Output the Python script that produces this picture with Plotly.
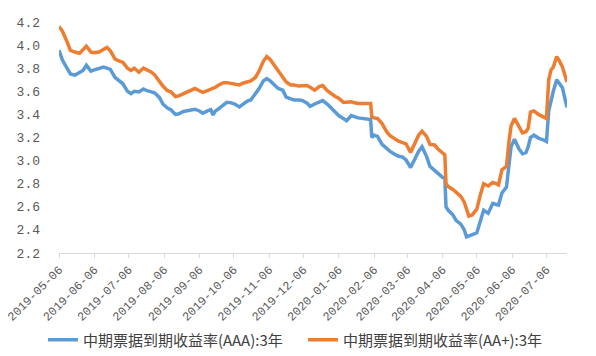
import plotly.graph_objects as go
from datetime import date, timedelta

start = date(2019, 5, 6)
day_offsets = [0, 3, 7, 10, 14, 18, 21, 24, 28, 31, 35, 39, 42, 45, 49, 52, 56, 60, 63, 66,
               70, 74, 77, 81, 84, 88, 91, 95, 98, 102, 105, 109, 112, 116, 119, 123, 126, 130,
               133, 135, 137, 140, 144, 147, 151, 154, 158, 161, 165, 168, 172, 175, 179, 182,
               185, 189, 192, 196, 199, 203, 206, 210, 213, 217, 220, 224, 228, 231, 235, 238,
               242, 245, 249, 252, 256, 259, 262, 273, 274, 276, 279, 283, 287, 290, 294, 297,
               301, 304, 308, 311, 315, 318, 322, 325, 329, 332, 336, 338, 339, 341, 345, 348,
               352, 355, 357, 359, 362, 366, 369, 372, 376, 380, 383, 385, 388, 392, 394, 396,
               399, 403, 406, 409, 411, 413, 416, 420, 424, 427, 429, 431, 433, 436, 438, 441, 445]
dates = [(start + timedelta(days=d)).isoformat() for d in day_offsets]

aa_plus = [4.16, 4.12, 4.03, 3.955, 3.94, 3.93, 3.96, 3.99, 3.94, 3.935, 3.94, 3.965, 3.98, 3.95,
           3.88, 3.865, 3.85, 3.80, 3.78, 3.80, 3.765, 3.80, 3.785, 3.765, 3.74, 3.68, 3.645,
           3.605, 3.595, 3.555, 3.56, 3.58, 3.59, 3.61, 3.625, 3.60, 3.59, 3.605, 3.615, 3.625,
           3.635, 3.655, 3.675, 3.675, 3.67, 3.66, 3.655, 3.67, 3.68, 3.69, 3.72, 3.77, 3.86,
           3.90, 3.875, 3.82, 3.78, 3.73, 3.68, 3.655, 3.655, 3.645, 3.65, 3.65, 3.635, 3.61,
           3.64, 3.65, 3.605, 3.58, 3.555, 3.54, 3.505, 3.505, 3.51, 3.50, 3.495, 3.495, 3.38,
           3.37, 3.365, 3.32, 3.25, 3.215, 3.19, 3.17, 3.155, 3.145, 3.07, 3.14, 3.22, 3.255,
           3.21, 3.14, 3.135, 3.10, 3.06, 3.05, 2.80, 2.775, 2.75, 2.72, 2.69, 2.64, 2.57, 2.52,
           2.53, 2.58, 2.70, 2.80, 2.78, 2.81, 2.80, 2.79, 2.92, 2.95, 3.15, 3.30, 3.365, 3.29,
           3.24, 3.25, 3.28, 3.42, 3.43, 3.40, 3.38, 3.365, 3.70, 3.785, 3.81, 3.90, 3.87, 3.81,
           3.68]

aaa = [3.955, 3.87, 3.80, 3.75, 3.74, 3.76, 3.78, 3.825, 3.775, 3.785, 3.80, 3.81, 3.80, 3.79,
       3.72, 3.70, 3.665, 3.60, 3.58, 3.60, 3.595, 3.62, 3.605, 3.595, 3.585, 3.545, 3.49,
       3.455, 3.44, 3.40, 3.405, 3.425, 3.43, 3.435, 3.445, 3.43, 3.41, 3.43, 3.44, 3.395,
       3.43, 3.45, 3.48, 3.505, 3.50, 3.49, 3.465, 3.49, 3.515, 3.525, 3.575, 3.62, 3.69,
       3.71, 3.69, 3.65, 3.625, 3.61, 3.55, 3.535, 3.525, 3.525, 3.52, 3.50, 3.47, 3.49,
       3.51, 3.52, 3.49, 3.46, 3.42, 3.39, 3.365, 3.345, 3.39, 3.38, 3.37, 3.355, 3.20,
       3.22, 3.21, 3.14, 3.10, 3.08, 3.055, 3.04, 3.03, 3.005, 2.94, 3.00, 3.08, 3.12,
       3.035, 2.95, 2.91, 2.89, 2.855, 2.85, 2.60, 2.57, 2.53, 2.48, 2.45, 2.40, 2.34, 2.345,
       2.36, 2.375, 2.47, 2.57, 2.545, 2.63, 2.62, 2.615, 2.72, 2.77, 2.95, 3.12, 3.185, 3.10,
       3.06, 3.07, 3.12, 3.20, 3.22, 3.195, 3.18, 3.165, 3.43, 3.52, 3.60, 3.70, 3.67, 3.63,
       3.46]

tick_dates = ["2019-05-06", "2019-06-06", "2019-07-06", "2019-08-06", "2019-09-06",
              "2019-10-06", "2019-11-06", "2019-12-06", "2020-01-06", "2020-02-06",
              "2020-03-06", "2020-04-06", "2020-05-06", "2020-06-06", "2020-07-06"]
y_ticks = [2.2, 2.4, 2.6, 2.8, 3.0, 3.2, 3.4, 3.6, 3.8, 4.0, 4.2]

fig = go.Figure()
fig.add_trace(go.Scatter(x=dates, y=aaa, mode="lines", name="中期票据到期收益率(AAA):3年",
                         line=dict(color="#5B9BD5", width=3.5), legend="legend"))
fig.add_trace(go.Scatter(x=dates, y=aa_plus, mode="lines", name="中期票据到期收益率(AA+):3年",
                         line=dict(color="#ED7D31", width=3.5), legend="legend2"))

legend_style = dict(orientation="h", xref="container", xanchor="left",
                    yref="container", y=0.045, yanchor="middle",
                    font=dict(family="Noto Sans CJK SC", size=15, color="#404040"),
                    itemwidth=30, bgcolor="rgba(0,0,0,0)")

fig.update_layout(
    width=596, height=356,
    margin=dict(l=59, r=29, t=22, b=103, autoexpand=False),
    paper_bgcolor="white", plot_bgcolor="white",
    showlegend=True,
    legend=dict(legend_style, x=43 / 596),
    legend2=dict(legend_style, x=303 / 596),
    xaxis=dict(type="date", range=["2019-05-06", "2020-07-24"],
               tickvals=tick_dates, ticktext=tick_dates, tickangle=-45,
               showgrid=False, zeroline=False, automargin=False,
               showline=True, linecolor="#D9D9D9", linewidth=1,
               ticks="outside", ticklen=4, tickcolor="#D9D9D9",
               tickfont=dict(family="Liberation Mono", size=12, color="#595959")),
    yaxis=dict(range=[2.2, 4.2], tickvals=y_ticks, tickformat=".1f",
               showgrid=False, zeroline=False, showline=False, automargin=False,
               ticks="", ticklabelstandoff=18,
               tickfont=dict(family="Liberation Mono", size=13, color="#595959")),
)

fig.write_html("out.html", config={"displayModeBar": False},
               post_script="document.body.style.margin='0';")
